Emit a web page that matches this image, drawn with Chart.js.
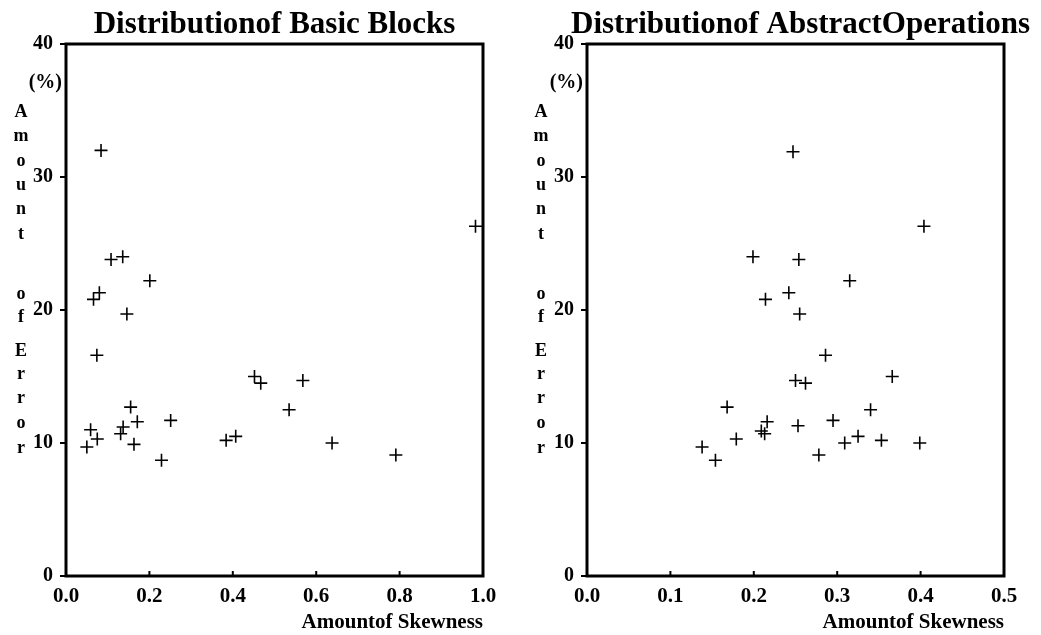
<!DOCTYPE html>
<html>
<head>
<meta charset="utf-8">
<script src="https://cdn.jsdelivr.net/npm/chart.js@4.4.1/dist/chart.umd.min.js"></script>
<style>
  body { margin: 0; background: #fff; }
  .wrap { display: flex; }
  canvas { display: block; }
</style>
</head>
<body>
<div class="wrap">
  <canvas id="blocksChart" width="520" height="635"></canvas>
  <canvas id="opsChart" width="521" height="635"></canvas>
</div>
<script>
// Basic blocks panel: skewness vs amount of error (%)
const blocksSkew  = [0.084, 0.108, 0.136, 0.201, 0.080, 0.066, 0.146, 0.074, 0.452, 0.467, 0.568, 0.535, 0.155, 0.171,
                     0.251, 0.137, 0.131, 0.059, 0.075, 0.050, 0.163, 0.229, 0.384, 0.407, 0.638, 0.791, 0.982];
const blocksError = [32.0, 23.8, 24.0, 22.2, 21.3, 20.8, 19.7, 16.6, 15.0, 14.5, 14.7, 12.5, 12.7, 11.6,
                     11.7, 11.2, 10.7, 11.0, 10.3, 9.7, 9.9, 8.7, 10.2, 10.5, 10.0, 9.1, 26.3];

// Abstract operations panel
const opsSkew  = [0.247, 0.404, 0.199, 0.254, 0.315, 0.242, 0.214, 0.255, 0.286, 0.250, 0.262, 0.366, 0.340, 0.168,
                  0.216, 0.295, 0.253, 0.209, 0.213, 0.179, 0.138, 0.154, 0.278, 0.309, 0.325, 0.353, 0.399];
const opsError = [31.9, 26.3, 24.0, 23.8, 22.2, 21.3, 20.8, 19.7, 16.6, 14.7, 14.5, 15.0, 12.5, 12.7,
                  11.6, 11.7, 11.3, 10.9, 10.7, 10.3, 9.7, 8.7, 9.1, 10.0, 10.5, 10.2, 10.0];

// axis ranges / tick steps
const yMax = 40, yStep = 10;
const blocksXMax = 1.0, blocksXStep = 0.2;
const opsXMax = 0.5, opsXStep = 0.1;

const serif = '"Liberation Serif", "Times New Roman", serif';
Chart.defaults.font.family = serif;
Chart.defaults.color = '#000';

// stacked y-axis title, one letter per line (text, y centre)
const yTitleLetters = [
    ['A', 112], ['m', 136], ['o', 161], ['u', 185], ['n', 209], ['t', 234],
    ['o', 294], ['f', 317],
    ['E', 351], ['r', 374], ['r', 398], ['o', 423], ['r', 448]
];

// title + box + inward x ticks + stacked y title
const framePlugin = {
    id: 'frame',
    afterDraw(chart, args, opts) {
        const ctx = chart.ctx;
        const a = chart.chartArea;
        const xs = chart.scales.x;
        ctx.save();
        ctx.strokeStyle = '#000';
        ctx.lineWidth = 3;
        ctx.strokeRect(a.left, a.top, a.right - a.left, a.bottom - a.top);

        ctx.lineWidth = 2;
        xs.ticks.forEach(t => {
            const px = xs.getPixelForValue(t.value);
            ctx.beginPath();
            ctx.moveTo(px, a.bottom);
            ctx.lineTo(px, a.bottom - 5);
            ctx.stroke();
        });

        ctx.fillStyle = '#000';
        // chart title (may run past the plot box, as in the original)
        ctx.font = 'bold 31px ' + serif;
        ctx.textAlign = 'center';
        ctx.textBaseline = 'alphabetic';
        ctx.fillText(opts.title, (a.left + a.right) / 2 + opts.titleShift, 33);

        ctx.textBaseline = 'middle';
        ctx.font = 'bold 20px ' + serif;
        ctx.textAlign = 'right';
        ctx.fillText('(%)', a.left - 4, 83);
        ctx.font = 'bold 18px ' + serif;
        ctx.textAlign = 'center';
        yTitleLetters.forEach(([ch, y]) => ctx.fillText(ch, 21, y));
        ctx.restore();
    }
};

function makeChart(id, xs, ys, xMax, xStep, title, titleShift, yWidth) {
    const ctx = document.getElementById(id).getContext('2d');
    const points = xs.map((x, i) => ({ x: x, y: ys[i] }));

    return new Chart(ctx, {
        type: 'scatter',
        data: {
            datasets: [{
                data: points,
                pointStyle: 'cross',
                pointRadius: 6.5,
                pointBorderWidth: 1.6,
                borderColor: '#000',
                backgroundColor: '#000'
            }]
        },
        options: {
            responsive: false,
            animation: false,
            layout: { padding: { left: 0, right: 37, top: 44, bottom: 0 } },
            plugins: {
                legend: { display: false },
                tooltip: { enabled: false },
                title: { display: false },
                frame: { title: title, titleShift: titleShift }
            },
            scales: {
                x: {
                    type: 'linear',
                    min: 0,
                    max: xMax,
                    grid: { display: false, drawTicks: false },
                    border: { display: false },
                    ticks: {
                        stepSize: xStep,
                        padding: 8,
                        font: { size: 21, weight: 'bold' },
                        callback: v => v.toFixed(1)
                    },
                    title: {
                        display: true,
                        text: 'Amountof Skewness',
                        align: 'end',
                        font: { size: 21, weight: 'bold' },
                        padding: { top: 0, bottom: 0 }
                    },
                    afterFit: s => { s.height = 59; }
                },
                y: {
                    min: 0,
                    max: yMax,
                    grid: {
                        drawOnChartArea: false,
                        drawTicks: true,
                        tickLength: 6,
                        color: '#000',
                        lineWidth: 2
                    },
                    border: { display: false },
                    ticks: {
                        stepSize: yStep,
                        padding: 7,
                        font: { size: 20, weight: 'bold' }
                    },
                    afterFit: s => { s.width = yWidth; }
                }
            }
        },
        plugins: [framePlugin]
    });
}

makeChart('blocksChart', blocksSkew, blocksError, blocksXMax, blocksXStep, 'Distributionof Basic Blocks', 0, 66);
makeChart('opsChart', opsSkew, opsError, opsXMax, opsXStep, 'Distributionof AbstractOperations', 5, 67);
</script>
</body>
</html>
